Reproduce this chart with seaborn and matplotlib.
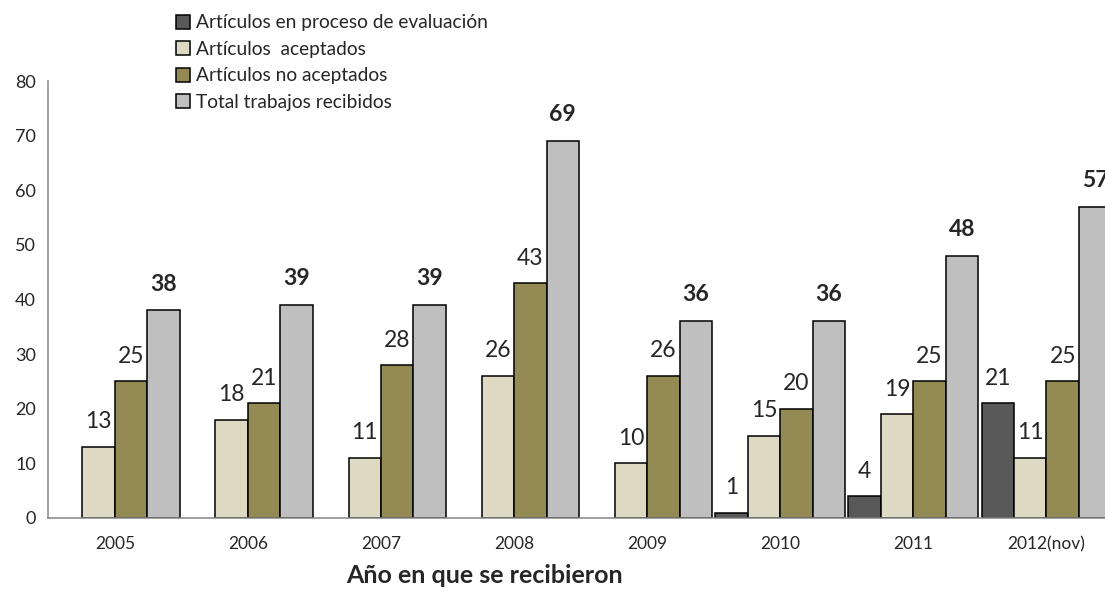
import numpy as np
import pandas as pd
import seaborn as sns
import matplotlib.pyplot as plt

anios = ['2005', '2006', '2007', '2008', '2009', '2010', '2011', '2012(nov)']
series = ['Artículos en proceso de evaluación', 'Artículos  aceptados',
          'Artículos no aceptados', 'Total trabajos recibidos']
en_proceso = [np.nan, np.nan, np.nan, np.nan, np.nan, 1, 4, 21]
aceptados = [13, 18, 11, 26, 10, 15, 19, 11]
no_aceptados = [25, 21, 28, 43, 26, 20, 25, 25]
total = [38, 39, 39, 69, 36, 36, 48, 57]
colores = ['#595959', '#DDD9C3', '#948A54', '#BFBFBF']

filas = []
for nombre, vals in zip(series, [en_proceso, aceptados, no_aceptados, total]):
    for a, v in zip(anios, vals):
        filas.append({'anio': a, 'serie': nombre, 'valor': v})
df = pd.DataFrame(filas)

sns.set_style('white')
plt.rcParams['font.family'] = ['Lato', 'DejaVu Sans']

fig = plt.figure(figsize=(11.05, 5.92), dpi=100)
ax = fig.add_axes([0.0437, 0.125, 1.0072 - 0.0437, 0.863 - 0.125])

sns.barplot(data=df, x='anio', y='valor', hue='serie', hue_order=series,
            order=anios, palette=colores, saturation=1, width=0.975, gap=0,
            edgecolor='black', linewidth=1.1, ax=ax, legend=True)

# etiquetas de datos
for i, cont in enumerate(ax.containers):
    for p in cont.patches:
        h = p.get_height()
        if np.isnan(h):
            continue
        bold = i == 3
        ax.annotate(f'{h:.0f}', (p.get_x() + p.get_width() / 2, h),
                    xytext=(0, 11.5 if bold else 10.5), textcoords='offset points',
                    ha='center', va='bottom', fontsize=16.5,
                    fontweight='bold' if bold else 'normal', clip_on=False)

ax.set_ylim(0, 80)
ax.set_yticks(range(0, 81, 10))
ax.set_xlim(-0.5, 7.5)
ax.set_xticks(np.arange(-0.5, 8, 1), minor=True)
ax.tick_params(axis='x', which='major', length=0, labelsize=12.5, pad=13)
ax.tick_params(axis='x', which='minor', length=5, width=1.1, color='#868686')
ax.tick_params(axis='y', length=5, width=1.1, color='#868686', labelsize=13, pad=4)
for s in ['top', 'right']:
    ax.spines[s].set_visible(False)
for s in ['left', 'bottom']:
    ax.spines[s].set_color('#868686')
    ax.spines[s].set_linewidth(1.1)

ax.set_ylabel('')
ax.set_xlabel('Año en que se recibieron', fontsize=18, fontweight='bold')
ax.xaxis.set_label_coords(0.41, -0.105)

handles, labels = ax.get_legend_handles_labels()
ax.get_legend().remove()
fig.legend(handles, labels, loc='upper left', bbox_to_anchor=(0.159, 0.976),
           bbox_transform=fig.transFigure, frameon=False, fontsize=13.8,
           handlelength=0.75, handleheight=0.75, handletextpad=0.3,
           labelspacing=0.5, borderpad=0, borderaxespad=0)

fig.savefig('out.png', dpi=100)
